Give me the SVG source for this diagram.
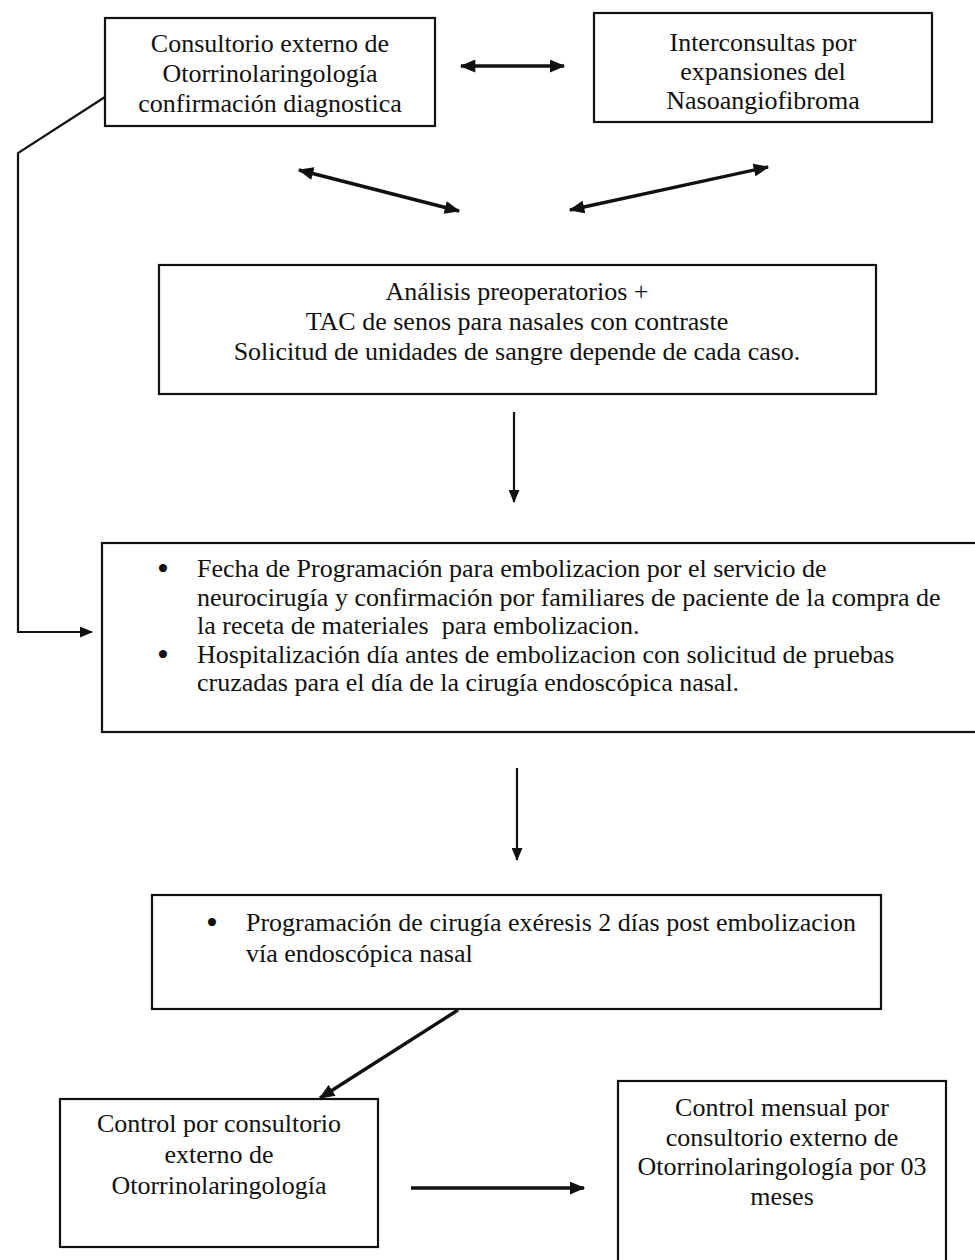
<svg xmlns="http://www.w3.org/2000/svg" width="975" height="1260" viewBox="0 0 975 1260">
<style>
.box{fill:#fff;stroke:#111;stroke-width:2.2}
.t{font-family:"Liberation Serif","Times New Roman",serif;font-size:26px;fill:#111}
.c{text-anchor:middle}
.b{font-size:34px}
.ln{fill:none;stroke:#111;stroke-width:2.2}
.thick{fill:none;stroke:#111;stroke-width:3.4}
</style>
<defs>
<marker id="ah" viewBox="0 0 12 10" refX="11" refY="5" markerWidth="14" markerHeight="11" markerUnits="userSpaceOnUse" orient="auto-start-reverse">
<path d="M0,0 L12,5 L0,10 z" fill="#111"/>
</marker>
<marker id="ahs" viewBox="0 0 12 10" refX="11" refY="5" markerWidth="16" markerHeight="13" markerUnits="userSpaceOnUse" orient="auto-start-reverse">
<path d="M0,0 L12,5 L0,10 z" fill="#111"/>
</marker>
</defs>
<rect width="975" height="1260" fill="#fff"/>

<g id="connectors">
<line class="thick" x1="461" y1="66" x2="564" y2="66" marker-start="url(#ahs)" marker-end="url(#ahs)"/>
<line class="thick" x1="299" y1="170" x2="459" y2="211" marker-start="url(#ahs)" marker-end="url(#ahs)"/>
<line class="thick" x1="768" y1="167" x2="570" y2="210" marker-start="url(#ahs)" marker-end="url(#ahs)"/>
<polyline class="ln" points="105,97 18,153 18,632 92,632" marker-end="url(#ah)"/>
<line class="ln" x1="514" y1="412" x2="514" y2="502" marker-end="url(#ah)"/>
<line class="ln" x1="517" y1="768" x2="517" y2="860" marker-end="url(#ah)"/>
<line class="thick" x1="458" y1="1010" x2="320" y2="1098" marker-end="url(#ahs)"/>
<line class="thick" x1="411" y1="1188" x2="584" y2="1188" marker-end="url(#ahs)"/>
</g>

<g id="n1">
<rect class="box" x="105" y="18" width="330" height="108"/>
<text class="t c" x="270" y="52">Consultorio externo de</text>
<text class="t c" x="270" y="82">Otorrinolaringología</text>
<text class="t c" x="270" y="112">confirmación diagnostica</text>
</g>

<g id="n2">
<rect class="box" x="594" y="13" width="338" height="109"/>
<text class="t c" x="763" y="51">Interconsultas por</text>
<text class="t c" x="763" y="80">expansiones del</text>
<text class="t c" x="763" y="109">Nasoangiofibroma</text>
</g>

<g id="n3">
<rect class="box" x="159" y="265" width="717" height="129"/>
<text class="t c" x="517" y="300">Análisis preoperatorios +</text>
<text class="t c" x="517" y="330">TAC de senos para nasales con contraste</text>
<text class="t c" x="517" y="360">Solicitud de unidades de sangre depende de cada caso.</text>
</g>

<g id="n4">
<rect class="box" x="102" y="543" width="885" height="189"/>
<text class="t b" x="157" y="580">•</text>
<text class="t" x="197" y="577">Fecha de Programación para embolizacion por el servicio de</text>
<text class="t" x="197" y="605.5">neurocirugía y confirmación por familiares de paciente de la compra de</text>
<text class="t" x="197" y="634" style="white-space:pre">la receta de materiales  para embolizacion.</text>
<text class="t b" x="157" y="665.5">•</text>
<text class="t" x="197" y="662.5">Hospitalización día antes de embolizacion con solicitud de pruebas</text>
<text class="t" x="197" y="691">cruzadas para el día de la cirugía endoscópica nasal.</text>
</g>

<g id="n5">
<rect class="box" x="152" y="895" width="729" height="114"/>
<text class="t b" x="206" y="934">•</text>
<text class="t" x="246" y="931">Programación de cirugía exéresis 2 días post embolizacion</text>
<text class="t" x="246" y="962">vía endoscópica nasal</text>
</g>

<g id="n6">
<rect class="box" x="60" y="1099" width="318" height="148"/>
<text class="t c" x="219" y="1132">Control por consultorio</text>
<text class="t c" x="219" y="1163">externo de</text>
<text class="t c" x="219" y="1194">Otorrinolaringología</text>
</g>

<g id="n7">
<rect class="box" x="618" y="1081" width="328" height="200"/>
<text class="t c" x="782" y="1116">Control mensual por</text>
<text class="t c" x="782" y="1146">consultorio externo de</text>
<text class="t c" x="782" y="1175">Otorrinolaringología por 03</text>
<text class="t c" x="782" y="1205">meses</text>
</g>
</svg>
